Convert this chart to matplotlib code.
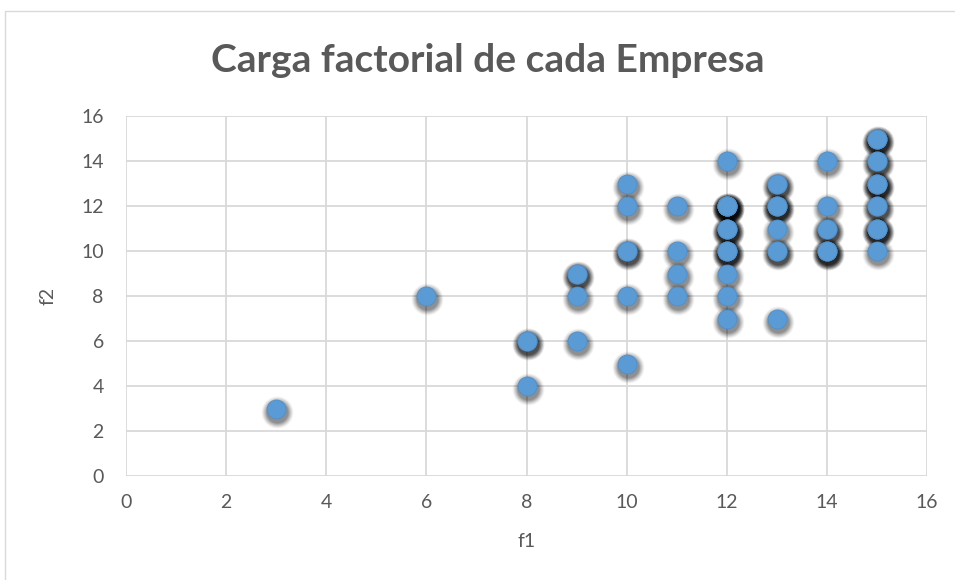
import matplotlib
matplotlib.use("Agg")
import matplotlib.pyplot as plt
import matplotlib.transforms as mtransforms
from matplotlib.patches import Rectangle

# Data (duplicates included, as read from shadow intensity)
f1 = [3, 6, 8, 8, 8, 9, 9, 9, 9, 10, 10, 10, 10, 10, 10,
      11, 11, 11, 11, 12, 12, 12, 12, 12, 12, 12, 12, 12, 12, 12, 12, 12, 12, 12,
      13, 13, 13, 13, 13, 13, 13, 13, 13,
      14, 14, 14, 14, 14, 14, 14,
      15, 15, 15, 15, 15, 15, 15, 15, 15, 15, 15, 15, 15, 15]
f2 = [3, 8, 6, 6, 4, 9, 9, 8, 6, 13, 12, 10, 10, 8, 5,
      12, 10, 9, 8, 14, 12, 12, 12, 12, 11, 11, 11, 10, 10, 10, 9, 8, 7, 12,
      13, 13, 12, 12, 12, 11, 10, 10, 7,
      14, 12, 11, 11, 10, 10, 10,
      15, 15, 15, 14, 14, 13, 13, 13, 12, 12, 11, 11, 11, 10]
x_ticks = [0, 2, 4, 6, 8, 10, 12, 14, 16]
y_ticks = [0, 2, 4, 6, 8, 10, 12, 14, 16]
title = "Carga factorial de cada Empresa"
x_label = "f1"
y_label = "f2"

plt.rcParams['font.family'] = ['Lato', 'DejaVu Sans']

fig = plt.figure(figsize=(9.55, 5.8), dpi=100)
fig.patch.set_facecolor("white")
# chart border
fig.patches.append(Rectangle((5 / 955, -0.1), 1.2, 1 - 11 / 580 + 0.1,
                             transform=fig.transFigure, fill=False,
                             edgecolor="#D9D9D9", linewidth=1.0))

ax = fig.add_axes([126 / 955, 1 - 476 / 580, (927 - 126) / 955, (476 - 116) / 580])
ax.set_xlim(0, 16)
ax.set_ylim(0, 16)
ax.set_xticks(x_ticks)
ax.set_yticks(y_ticks)
ax.grid(True, color="#D9D9D9", linewidth=1.3)
ax.set_axisbelow(True)
for s in ax.spines.values():
    s.set_visible(False)
ax.tick_params(axis="y", length=0, labelsize=14, colors="#595959", pad=16)
ax.tick_params(axis="x", length=0, labelsize=14, colors="#595959", pad=13)
ax.set_xlabel(x_label, fontsize=14, color="#595959", labelpad=16)
ax.set_ylabel(y_label, fontsize=14, color="#595959", labelpad=18)

# soft shadows (many faint layers)
shadow_tr = mtransforms.offset_copy(ax.transData, fig=fig, x=1, y=-3, units='dots')
layers = [(32, 0.035), (30.5, 0.045), (29, 0.055), (27.5, 0.065),
          (26, 0.075), (24.5, 0.085), (23, 0.09), (21.5, 0.09)]
for d, a in layers:
    ax.scatter(f1, f2, s=(d * 0.72) ** 2, color="black", alpha=a,
               linewidths=0, transform=shadow_tr, zorder=2, clip_on=False)

ax.scatter(f1, f2, s=(19 * 0.72) ** 2, color="#5B9BD5", edgecolors="#4F8FCB",
           linewidths=0.6, zorder=3, clip_on=False)

fig.text(488 / 955, 1 - 60 / 580, title, ha="center", va="center",
         fontsize=28, fontweight="bold", color="#595959")

fig.savefig("out.png", dpi=100)
